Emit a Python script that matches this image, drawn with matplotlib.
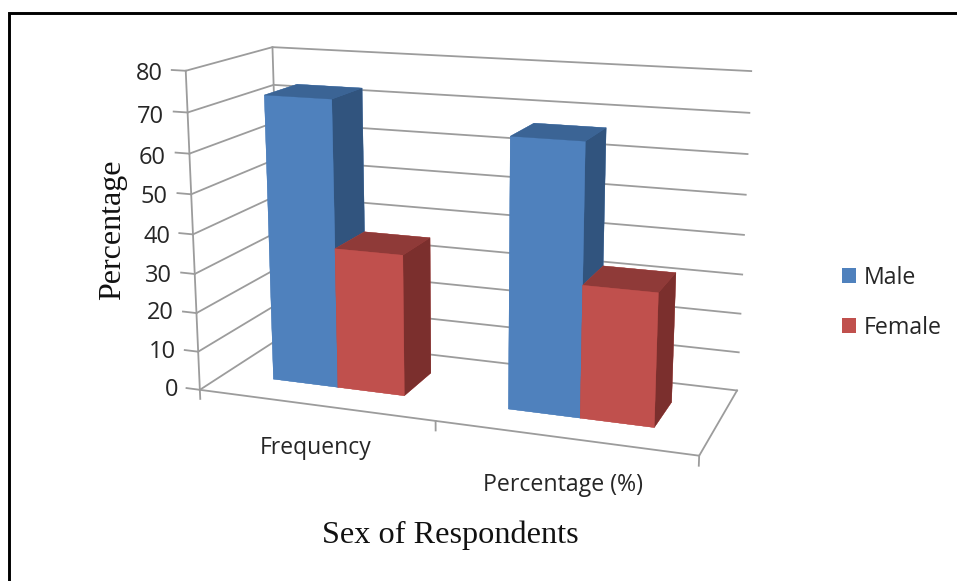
import matplotlib
matplotlib.use("Agg")
import matplotlib.pyplot as plt
from matplotlib.lines import Line2D
from matplotlib.patches import Patch

categories = ["Frequency", "Percentage (%)"]
male = [72.9, 66.8]
female = [35.9, 32.8]
value_ticks = [0, 10, 20, 30, 40, 50, 60, 70, 80]

W, H = 957, 581
BLUE = ["#4F81BD", "#3B6495", "#4F81BD", "#4F81BD", "#4F81BD", "#31547E"]
RED = ["#C0504D", "#8F3A38", "#C0504D", "#C0504D", "#C0504D", "#7B2F2D"]
GRID = "#9C9C9C"
TXT = "#262626"

plt.rcParams["font.family"] = ["Open Sans", "DejaVu Sans"]

fig = plt.figure(figsize=(W / 100, H / 100), dpi=100)

# camera was fitted to the picture, s/tx/ty map the 3d axes onto pixels
s, tx, ty = 3367.83, 468.29, 234.63
left = tx - 0.095 * s
bottom = ty + 0.095 * s
size = 0.185 * s
ax = fig.add_axes([left / W, (H - bottom) / H, size / W, size / H], projection="3d")
ax.computed_zorder = False
ax.view_init(14.27, -70.04)
ax.set_proj_type("persp", focal_length=0.4697)
ax.set_box_aspect((1, 0.3591, 0.6348))
ax.set_axis_off()
ax.patch.set_alpha(0)

top = value_ticks[-1]
n = len(categories)
line = dict(color=GRID, lw=1.3, zorder=1)

# walls and floor
for v in value_ticks:
    ax.plot([0, 0, n], [0, 1, 1], [v, v, v], **line)
    ax.plot([-0.06, 0], [0, 0], [v, v], **line)
ax.plot([0, 0], [0, 0], [0, top], **line)
ax.plot([0, 0], [1, 1], [0, top], **line)
ax.plot([0, n, n], [0, 0, 1], [0, 0, 0], **line)
for i in range(n + 1):
    ax.plot([i, i], [0, 0], [0, -2.4], **line)

# bars
width = 0.285
y0, y1 = 0.2972, 0.6954
z = 2
for i in range(n):
    c = i + 0.5015
    ax.bar3d(c - width, y0, 0, width, y1 - y0, male[i], color=BLUE, shade=False,
             edgecolor=BLUE, linewidth=0.2, zorder=z)
    ax.bar3d(c, y0, 0, width, y1 - y0, female[i], color=RED, shade=False,
             edgecolor=RED, linewidth=0.2, zorder=z + 1)
    z += 2

ax.set_xlim(0, n, view_margin=0)
ax.set_ylim(0, 1, view_margin=0)
ax.set_zlim(0, top, view_margin=0)

def px(x, y):
    return x / W, 1 - y / H

# value labels sit along the leaning front edge
label_x = [178, 176, 174, 172, 170, 168, 166, 164, 163]
label_y = [390, 352, 313, 276, 237, 197, 158, 117, 74]
for v, lx, ly in zip(value_ticks, label_x, label_y):
    fig.text(*px(lx, ly), str(v), ha="right", va="center", fontsize=17, color=TXT)

# category labels follow the slanted floor edge
fig.text(*px(316, 448), categories[0], ha="center", va="center", fontsize=16.5, color=TXT)
fig.text(*px(563, 485), categories[1], ha="center", va="center", fontsize=16.7, color=TXT)

fig.text(*px(113, 230), "Percentage", rotation=90, ha="center", va="center",
         family="Liberation Serif", fontsize=23, color="#111111")
fig.text(*px(450, 535), "Sex of Respondents", ha="center", va="center",
         family="Liberation Serif", fontsize=23.2, color="#111111")

handles = [Patch(facecolor=BLUE[0], label="Male"), Patch(facecolor=RED[0], label="Female")]
fig.legend(handles=handles, loc="center left", bbox_to_anchor=px(842, 303), frameon=False,
           fontsize=16.7, labelcolor=TXT, handlelength=0.62, handleheight=0.62,
           handletextpad=0.33, labelspacing=1.12, borderpad=0, borderaxespad=0)

# black frame, only top and left fall inside the crop
fig.add_artist(Line2D([8.5 / W, 8.5 / W, 1], [0, 1 - 12.5 / H, 1 - 12.5 / H], color="black", lw=2.1,
                      transform=fig.transFigure, solid_joinstyle="miter"))

fig.savefig("out.png", dpi=100)
